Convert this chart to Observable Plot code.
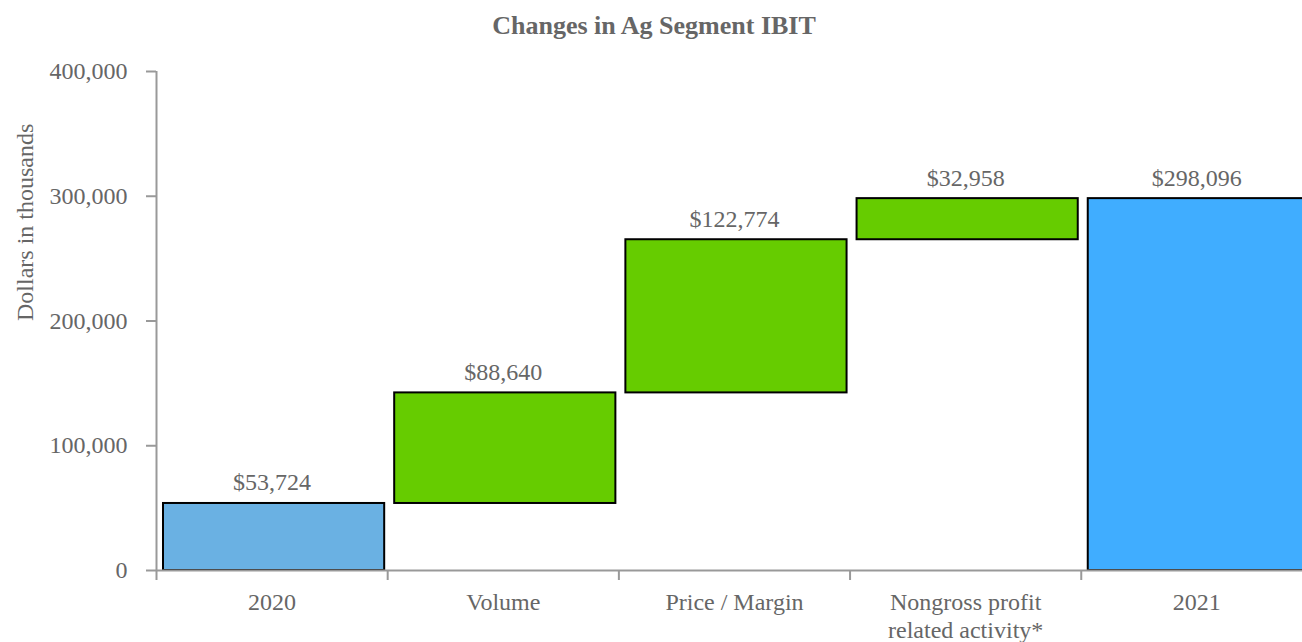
<!DOCTYPE html>
<html>
<head>
<meta charset="utf-8">
<script src="https://cdn.jsdelivr.net/npm/d3@7"></script>
<script src="https://cdn.jsdelivr.net/npm/@observablehq/plot@0.6"></script>
<style>
  html, body { margin: 0; padding: 0; background: #fff; overflow: hidden; }
  #title {
    font: bold 26px "Liberation Serif", "Times New Roman", serif; color: #666;
    width: 1302px; height: 46px; line-height: 52px; text-align: center; padding-left: 6px; box-sizing: border-box;
  }
  #chart svg { display: block; }
</style>
</head>
<body>
<div id="title">Changes in Ag Segment IBIT</div>
<div id="chart"></div>
<script>
// Waterfall data
const categories = ["2020", "Volume", "Price / Margin", "Nongross profit\nrelated activity*", "2021"];
const amounts = [53724, 88640, 122774, 32958, 298096];
const kinds = ["total", "change", "change", "change", "total"];
const colors = ["#6AB1E3", "#66CC00", "#66CC00", "#66CC00", "#40ADFF"];
const yTicks = [0, 100000, 200000, 300000, 400000];
const yLabel = "Dollars in thousands";

// Build the table (running total for changes)
let running = 0;
const rows = categories.map((c, i) => {
  let lo, hi;
  if (kinds[i] === "total") { lo = 0; hi = amounts[i]; running = amounts[i]; }
  else { lo = running; hi = running + amounts[i]; running = hi; }
  return {category: c, i, lo, hi, amount: amounts[i], color: colors[i]};
});

const fmt = d3.format(",");
const axisColor = "#999";
const textColor = "#666";
const serif = '"Liberation Serif", "Times New Roman", serif';

const chart = Plot.plot({
  width: 1302,
  height: 596,
  marginLeft: 156,
  marginRight: 0,
  marginTop: 25,
  marginBottom: 72,
  style: {fontFamily: serif, fontSize: "24px", color: textColor, background: "white"},
  x: {type: "linear", domain: [0, 4.957]},
  y: {domain: [0, 400000]},
  marks: [
    Plot.rectY(rows, {
      x1: d => d.i, x2: d => d.i + 1, y1: "lo", y2: "hi",
      fill: d => d.color, stroke: "black", strokeWidth: 2,
      insetLeft: 7, insetRight: 3, clip: true
    }),
    Plot.ruleX([0], {y1: 0, y2: 400000, stroke: axisColor, strokeWidth: 2}),
    Plot.ruleY([0], {stroke: axisColor, strokeWidth: 2}),
    Plot.axisY({ticks: yTicks, tickFormat: fmt, tickSize: 10, tickPadding: 19, stroke: axisColor, strokeWidth: 2, fill: textColor, fontFamily: serif, label: null}),
    Plot.axisX({ticks: [0, 1, 2, 3, 4], tickFormat: () => "", tickSize: 10, stroke: axisColor, strokeWidth: 2, label: null}),
    Plot.text(rows, {
      x: d => d.i + 0.5, y: "hi", text: d => "$" + fmt(d.amount),
      lineAnchor: "bottom", dy: -13, fill: textColor, fontFamily: serif
    }),
    Plot.text(rows, {
      x: d => d.i + 0.5, frameAnchor: "bottom", text: "category",
      lineAnchor: "top", lineHeight: 1.17, dy: 19.5, fill: textColor, fontFamily: serif
    }),
    Plot.text([yLabel], {
      frameAnchor: "left", dx: -131, rotate: -90, fill: textColor, fontFamily: serif
    })
  ]
});
document.getElementById("chart").appendChild(chart);
</script>
</body>
</html>
